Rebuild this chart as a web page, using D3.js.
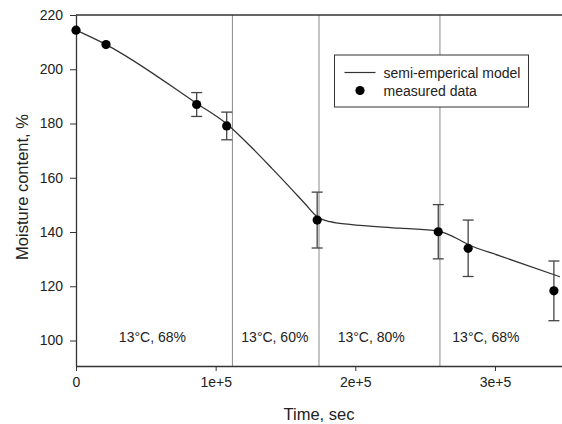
<!DOCTYPE html>
<html>
<head>
<meta charset="utf-8">
<script src="https://cdn.jsdelivr.net/npm/d3@7"></script>
<style>
  body { margin: 0; background: #fff; }
  svg { display: block; font-family: "Liberation Sans", Arial, sans-serif; }
  .tick text { font-size: 14px; fill: #222; }
</style>
</head>
<body>
<div id="chart"></div>
<script>
// measured data (time in sec, moisture %, error half-width)
const measTime = [0, 21500, 86400, 107900, 172700, 259400, 280800, 342200];
const measValue = [214.4, 209.1, 187.0, 179.1, 144.4, 140.1, 134.0, 118.3];
const measErr = [0, 0, 4.4, 5.1, 10.3, 10.0, 10.4, 11.0];

// semi-emperical model curve
const modelTime = [0, 21500, 86400, 108000, 117000, 128000, 140000, 152000, 164000, 172700, 182000, 196100, 231900, 259400, 270000, 280800, 303500, 346500];
const modelValue = [214.4, 209.1, 187.4, 179.8, 175.6, 170.0, 163.6, 157.1, 150.4, 145.6, 143.8, 142.8, 141.4, 140.3, 138.3, 135.4, 131.2, 123.5];

// condition changes and their labels
const breakTimes = [112000, 174000, 260600];
const zoneLabels = ['13°C, 68%', '13°C, 60%', '13°C, 80%', '13°C, 68%'];
const zoneLabelTime = [54700, 142400, 211400, 293500];

const xTickVals = [0, 1e5, 2e5, 3e5];
const xTickLabels = ['0', '1e+5', '2e+5', '3e+5'];
const yTickVals = [100, 120, 140, 160, 180, 200, 220];

const margin = { top: 15, right: 0, bottom: 58, left: 76 },
    width = 562 - margin.left - margin.right,
    height = 424 - margin.top - margin.bottom;

const svg = d3.select('#chart')
    .append('svg')
    .attr('width', 562)
    .attr('height', 424)
    .append('g')
    .attr('transform', 'translate(' + margin.left + ',' + margin.top + ')');

const xScale = d3.scaleLinear()
    .domain([0, 348000])
    .range([0, width]);

const yScale = d3.scaleLinear()
    .domain([90.6, 220])
    .range([height, 0]);

// region separators
svg.selectAll('.sep')
    .data(breakTimes)
    .enter()
    .append('line')
    .attr('class', 'sep')
    .attr('x1', d => xScale(d))
    .attr('x2', d => xScale(d))
    .attr('y1', 0)
    .attr('y2', height)
    .attr('stroke', '#8a8a8a')
    .attr('stroke-width', 1);

// zone labels
svg.selectAll('.zone')
    .data(zoneLabels)
    .enter()
    .append('text')
    .attr('class', 'zone')
    .attr('x', (d, i) => xScale(zoneLabelTime[i]))
    .attr('y', 327)
    .attr('text-anchor', 'middle')
    .attr('font-size', '14px')
    .attr('fill', '#222')
    .text(d => d);

// axes
const xAxis = d3.axisBottom(xScale)
    .tickValues(xTickVals)
    .tickFormat((d, i) => xTickLabels[i])
    .tickSizeInner(5)
    .tickSizeOuter(0)
    .tickPadding(6);

const yAxis = d3.axisLeft(yScale)
    .tickValues(yTickVals)
    .tickSizeInner(6)
    .tickSizeOuter(0)
    .tickPadding(7);

const xAxisG = svg.append('g')
    .attr('transform', 'translate(0,' + height + ')')
    .call(xAxis);

const yAxisG = svg.append('g')
    .call(yAxis);

[xAxisG, yAxisG].forEach(g => {
    g.selectAll('.domain').attr('stroke', '#333').attr('stroke-width', 1.3);
    g.selectAll('.tick line').attr('stroke', '#333');
});

// top border
svg.append('line')
    .attr('x1', 0)
    .attr('x2', width)
    .attr('y1', 0)
    .attr('y2', 0)
    .attr('stroke', '#333')
    .attr('stroke-width', 1.3);

// axis titles
svg.append('text')
    .attr('x', width / 2)
    .attr('y', height + 54)
    .attr('text-anchor', 'middle')
    .attr('font-size', '16.5px')
    .attr('fill', '#222')
    .text('Time, sec');

svg.append('text')
    .attr('transform', 'rotate(-90)')
    .attr('x', -(187 - margin.top))
    .attr('y', 28 - margin.left)
    .attr('text-anchor', 'middle')
    .attr('font-size', '16.5px')
    .attr('fill', '#222')
    .text('Moisture content, %');

// model curve
const model = modelTime.map((t, i) => ({ t: t, v: modelValue[i] }));
const line = d3.line()
    .x(d => xScale(d.t))
    .y(d => yScale(d.v))
    .curve(d3.curveMonotoneX);

svg.append('path')
    .datum(model)
    .attr('d', line)
    .attr('fill', 'none')
    .attr('stroke', '#333')
    .attr('stroke-width', 1.3);

// measured points with error bars
const meas = measTime.map((t, i) => ({ t: t, v: measValue[i], e: measErr[i] }));
const errG = svg.append('g');
const withErr = meas.filter(d => d.e > 0);

errG.selectAll('.ebar')
    .data(withErr)
    .enter()
    .append('line')
    .attr('x1', d => xScale(d.t))
    .attr('x2', d => xScale(d.t))
    .attr('y1', d => yScale(d.v + d.e))
    .attr('y2', d => yScale(d.v - d.e))
    .attr('stroke', '#444')
    .attr('stroke-width', 1.3);

errG.selectAll('.capTop')
    .data(withErr)
    .enter()
    .append('line')
    .attr('x1', d => xScale(d.t) - 5.5)
    .attr('x2', d => xScale(d.t) + 5.5)
    .attr('y1', d => yScale(d.v + d.e))
    .attr('y2', d => yScale(d.v + d.e))
    .attr('stroke', '#444')
    .attr('stroke-width', 1.3);

errG.selectAll('.capBot')
    .data(withErr)
    .enter()
    .append('line')
    .attr('x1', d => xScale(d.t) - 5.5)
    .attr('x2', d => xScale(d.t) + 5.5)
    .attr('y1', d => yScale(d.v - d.e))
    .attr('y2', d => yScale(d.v - d.e))
    .attr('stroke', '#444')
    .attr('stroke-width', 1.3);

svg.selectAll('.dot')
    .data(meas)
    .enter()
    .append('circle')
    .attr('cx', d => xScale(d.t))
    .attr('cy', d => yScale(d.v))
    .attr('r', 4.6)
    .attr('fill', '#000');

// legend
const legend = svg.append('g')
    .attr('transform', 'translate(' + (334.5 - margin.left) + ',' + (55 - margin.top) + ')');

legend.append('rect')
    .attr('width', 194)
    .attr('height', 52)
    .attr('fill', '#fff')
    .attr('stroke', '#333')
    .attr('stroke-width', 1);

legend.append('line')
    .attr('x1', 10)
    .attr('x2', 41)
    .attr('y1', 17.5)
    .attr('y2', 17.5)
    .attr('stroke', '#333')
    .attr('stroke-width', 1.2);

legend.append('circle')
    .attr('cx', 25.5)
    .attr('cy', 35.5)
    .attr('r', 4.6)
    .attr('fill', '#000');

legend.append('text')
    .attr('x', 49)
    .attr('y', 22.5)
    .attr('font-size', '14px')
    .attr('fill', '#222')
    .text('semi-emperical model');

legend.append('text')
    .attr('x', 49)
    .attr('y', 40.5)
    .attr('font-size', '14px')
    .attr('fill', '#222')
    .text('measured data');
</script>
</body>
</html>
